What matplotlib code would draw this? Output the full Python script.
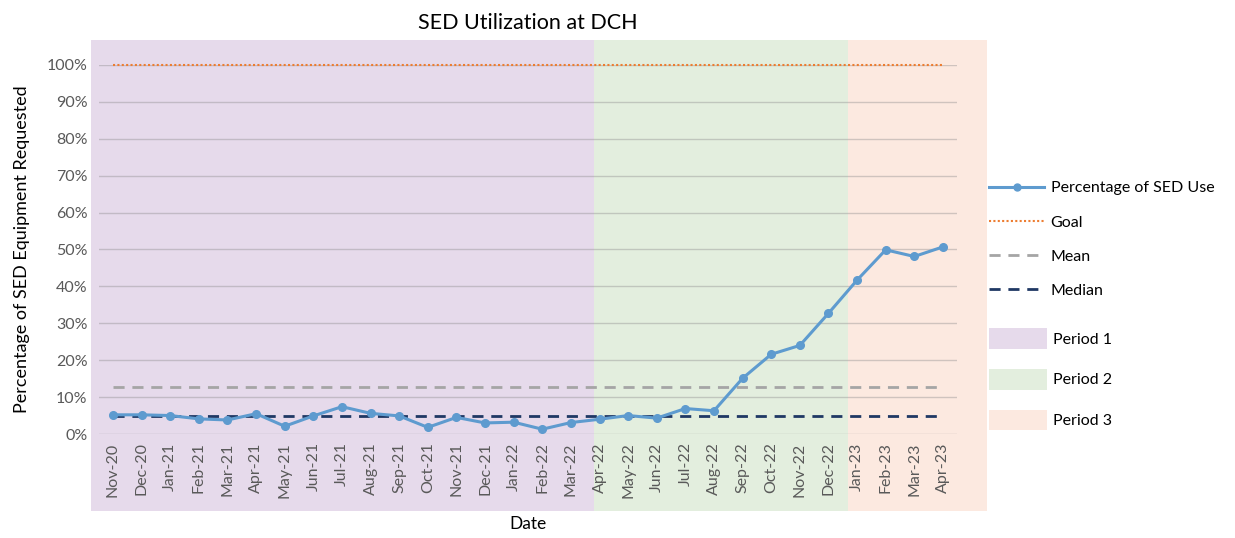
import matplotlib
matplotlib.use("Agg")
import matplotlib.pyplot as plt
import matplotlib.transforms as mtransforms
from matplotlib.lines import Line2D
from matplotlib.patches import Patch, Rectangle

plt.rcParams["font.family"] = ["Lato", "DejaVu Sans"]

# Data
months = ["Nov-20", "Dec-20", "Jan-21", "Feb-21", "Mar-21", "Apr-21", "May-21",
          "Jun-21", "Jul-21", "Aug-21", "Sep-21", "Oct-21", "Nov-21", "Dec-21",
          "Jan-22", "Feb-22", "Mar-22", "Apr-22", "May-22", "Jun-22", "Jul-22",
          "Aug-22", "Sep-22", "Oct-22", "Nov-22", "Dec-22", "Jan-23", "Feb-23",
          "Mar-23", "Apr-23"]
sed_use = [5.2, 5.2, 5.0, 4.1, 3.8, 5.5, 2.1, 4.9, 7.4, 5.6, 4.9, 1.8, 4.5, 3.0,
           3.2, 1.3, 3.1, 4.0, 5.0, 4.3, 6.9, 6.3, 15.1, 21.6, 24.0, 32.7, 41.7,
           49.9, 48.1, 50.7]
goal = 100.0
mean_val = 12.7
median_val = 4.8

period_labels = ["Period 1", "Period 2", "Period 3"]
period_colors = ["#E6DAEB", "#E3EEDE", "#FCE9E0"]
# shaded band edges, in category units
period_edges = [-0.77, 16.8, 25.68, 30.54]

x = list(range(len(months)))

fig = plt.figure(figsize=(12.35, 5.38), dpi=100)
ax = fig.add_axes([0.0799, 0.1933, 0.6952, 0.686])
ax.set_facecolor("none")

# background period bands (extend over the tick labels like the Excel chart)
trans = mtransforms.blended_transform_factory(ax.transData, ax.transAxes)
for i, c in enumerate(period_colors):
    ax.add_patch(Rectangle((period_edges[i], -0.209), period_edges[i + 1] - period_edges[i],
                           1.277, transform=trans, facecolor=c, edgecolor="none",
                           clip_on=False, zorder=0))

line_c = "#5E9BCF"
goal_c = "#ED7D31"
mean_c = "#A5A5A5"
med_c = "#1F3864"
dot_ls = (0, (1, 1.1))
dash_ls = (0, (4, 2.8))

ax.plot(x, [goal / 100] * len(x), color=goal_c, lw=1.5, linestyle=dot_ls, zorder=3, clip_on=False)
ax.plot(x, [mean_val / 100] * len(x), color=mean_c, lw=2.0, linestyle=dash_ls, zorder=3)
ax.plot(x, [median_val / 100] * len(x), color=med_c, lw=2.0, linestyle=dash_ls, zorder=3)
ax.plot(x, [v / 100 for v in sed_use], color=line_c, lw=2.2, marker="o", markersize=5.5, zorder=4)

ax.set_xlim(-0.5, len(months) - 0.5)
ax.set_ylim(0, 1.0)
ax.set_yticks([i / 10 for i in range(11)])
ax.set_yticklabels([f"{i * 10}%" for i in range(11)])
ax.set_xticks(x)
ax.set_xticklabels(months, rotation=90)
ax.tick_params(axis="both", length=0, colors="#595959", labelsize=11.5)
ax.tick_params(axis="y", pad=8)
ax.tick_params(axis="x", pad=6)
ax.grid(axis="y", color="#8C8C8C", alpha=0.4, lw=1.0)
ax.set_axisbelow(True)
for s in ax.spines.values():
    s.set_visible(False)

ax.set_title("SED Utilization at DCH", fontsize=15.5, pad=26)
ax.set_ylabel("Percentage of SED Equipment Requested", fontsize=13, labelpad=12)
ax.set_xlabel("Date", fontsize=12.5, labelpad=13)

line_handles = [
    Line2D([], [], color=line_c, lw=2.2, marker="o", markersize=5),
    Line2D([], [], color=goal_c, lw=1.5, linestyle=dot_ls),
    Line2D([], [], color=mean_c, lw=2.0, linestyle=dash_ls),
    Line2D([], [], color=med_c, lw=2.0, linestyle=dash_ls),
]
line_labels = ["Percentage of SED Use", "Goal", "Mean", "Median"]
leg1 = fig.legend(line_handles, line_labels, loc="upper left", bbox_to_anchor=(0.801, 0.664),
                  frameon=False, fontsize=11.5, handlelength=3.44, handleheight=0.8,
                  labelspacing=1.22, handletextpad=0.4, borderaxespad=0, borderpad=0)

patch_handles = [Patch(facecolor=c, edgecolor="none") for c in period_colors]
leg2 = fig.legend(patch_handles, period_labels, loc="upper left", bbox_to_anchor=(0.801, 0.39),
                  frameon=False, fontsize=11.5, handlelength=3.6, handleheight=1.6,
                  labelspacing=1.27, handletextpad=0.4, borderaxespad=0, borderpad=0)

fig.savefig("out.png", dpi=100)
